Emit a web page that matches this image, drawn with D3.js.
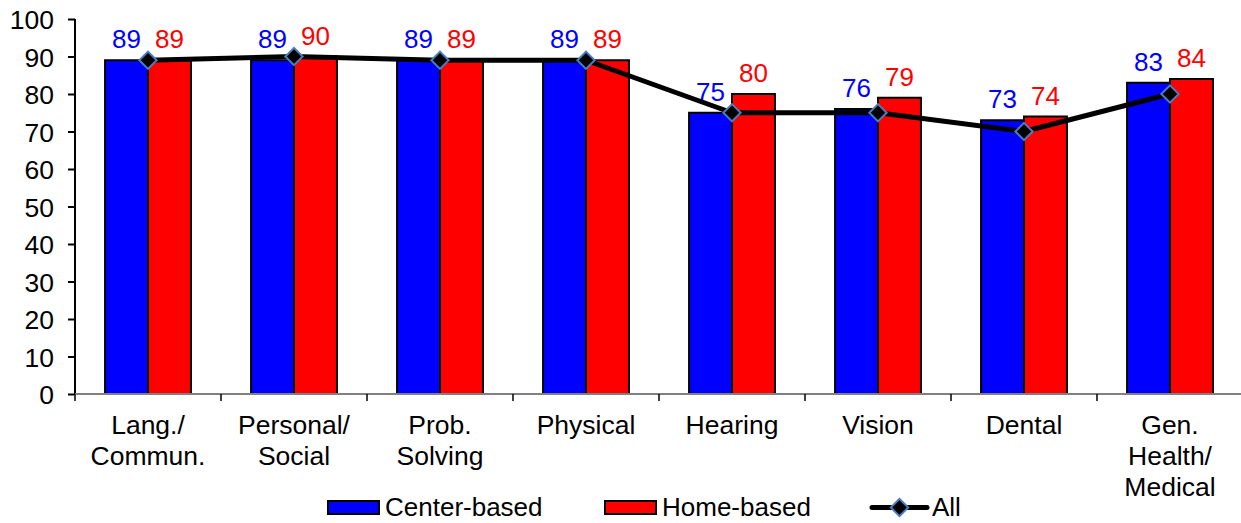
<!DOCTYPE html>
<html>
<head>
<meta charset="utf-8">
<script src="https://cdn.jsdelivr.net/npm/d3@7"></script>
<style>
  html, body { margin: 0; padding: 0; background: #fff; }
  svg { display: block; font-family: "Liberation Sans", Arial, sans-serif; }
</style>
</head>
<body>
<svg id="chart" width="1241" height="523"></svg>
<script>
const categories = ["Lang./\nCommun.", "Personal/\nSocial", "Prob.\nSolving", "Physical", "Hearing", "Vision", "Dental", "Gen.\nHealth/\nMedical"];
const seriesNames = ["Center-based", "Home-based"];
const centerBased = [89, 89, 89, 89, 75, 76, 73, 83];
const homeBased = [89, 90, 89, 89, 80, 79, 74, 84];
const allValues = [89, 90, 89, 89, 75, 75, 70, 80];
const yTicks = [0, 10, 20, 30, 40, 50, 60, 70, 80, 90, 100];

const colors = { "Center-based": "#0000FF", "Home-based": "#FF0000" };
const svg = d3.select("#chart");
const mLeft = 75, mRight = 1243, mTop = 19, mBottom = 394;
const fontSize = 26.5;

const x0 = d3.scaleBand().domain(categories).range([mLeft, mRight]).paddingInner(0).paddingOuter(0);
const x1 = d3.scaleBand().domain(seriesNames).range([0, x0.bandwidth()]).paddingInner(0).paddingOuter(0.7);
const y = d3.scaleLinear().domain([0, 100]).range([mBottom, mTop]);

// Y axis
const yAxis = svg.append("g").attr("transform", `translate(${mLeft},0)`)
  .call(d3.axisLeft(y).tickValues(yTicks).tickSize(7).tickPadding(14));
yAxis.select(".domain").attr("stroke", "#000").attr("stroke-width", 2).attr("d", `M0,${mTop}V${mBottom}`);
yAxis.selectAll(".tick line").attr("stroke", "#000").attr("stroke-width", 2);
yAxis.selectAll(".tick text").attr("font-size", fontSize).attr("fill", "#000").attr("font-family", "Liberation Sans, Arial, sans-serif").attr("dy", "0.36em");

// Bars
const data = categories.map((c, i) => ({ cat: c, vals: [
  { s: "Center-based", v: centerBased[i] },
  { s: "Home-based", v: homeBased[i] }
]}));

const groups = svg.append("g").selectAll("g").data(data).join("g")
  .attr("transform", d => `translate(${x0(d.cat)},0)`);
groups.selectAll("rect").data(d => d.vals).join("rect")
  .attr("x", d => x1(d.s))
  .attr("y", d => y(d.v))
  .attr("width", x1.bandwidth())
  .attr("height", d => y(0) - y(d.v))
  .attr("fill", d => colors[d.s])
  .attr("stroke", "#000")
  .attr("stroke-width", 2);

// X axis (gray line) with ticks at band boundaries
const xAxisG = svg.append("g");
xAxisG.append("line").attr("x1", mLeft).attr("x2", 1241).attr("y1", mBottom).attr("y2", mBottom)
  .attr("stroke", "#808080").attr("stroke-width", 2);
const boundaries = categories.map(c => x0(c));
xAxisG.selectAll("line.tk").data(boundaries).join("line").attr("class", "tk")
  .attr("x1", d => d).attr("x2", d => d).attr("y1", mBottom).attr("y2", mBottom + 7)
  .attr("stroke", "#000").attr("stroke-width", 1.5);

// Category labels
const catLabels = svg.append("g").selectAll("text").data(categories).join("text")
  .attr("x", d => x0(d) + x0.bandwidth() / 2)
  .attr("y", 434)
  .attr("text-anchor", "middle")
  .attr("font-size", fontSize)
  .attr("fill", "#000");
catLabels.each(function(d) {
  const t = d3.select(this);
  d.split("\n").forEach((line, i) => {
    t.append("tspan").attr("x", x0(d) + x0.bandwidth() / 2).attr("dy", i === 0 ? 0 : 31).text(line);
  });
});

// Line "All"
const linePts = categories.map((c, i) => [x0(c) + x0.bandwidth() / 2, y(allValues[i])]);
svg.append("path").datum(linePts)
  .attr("d", d3.line())
  .attr("fill", "none").attr("stroke", "#000").attr("stroke-width", 5).attr("stroke-linejoin", "round");

const diamond = d3.symbol().type(d3.symbolSquare).size(150);
svg.append("g").selectAll("path").data(linePts).join("path")
  .attr("d", diamond())
  .attr("transform", d => `translate(${d[0]},${d[1]}) rotate(45)`)
  .attr("fill", "#000").attr("stroke", "#4a7ebb").attr("stroke-width", 2);

// Data labels
groups.selectAll("text.lbl").data(d => d.vals).join("text").attr("class", "lbl")
  .attr("x", d => x1(d.s) + x1.bandwidth() / 2)
  .attr("y", d => y(d.v) - 12)
  .attr("text-anchor", "middle")
  .attr("font-size", 26)
  .attr("fill", d => colors[d.s])
  .text(d => d.v);

// Legend
const legend = svg.append("g");
const legY = 507.5;
const legFont = 26;
const legItems = [
  { name: "Center-based", x: 328, type: "rect" },
  { name: "Home-based", x: 605, type: "rect" },
  { name: "All", x: 872, type: "line" }
];
legItems.forEach(it => {
  if (it.type === "rect") {
    legend.append("rect").attr("x", it.x).attr("y", legY - 6.5).attr("width", 51).attr("height", 13)
      .attr("fill", colors[it.name]).attr("stroke", "#000").attr("stroke-width", 2);
    legend.append("text").attr("x", it.x + 57).attr("y", legY - 1).attr("dy", "0.36em")
      .attr("font-size", legFont).attr("fill", "#000").text(it.name);
  } else {
    legend.append("line").attr("x1", it.x).attr("x2", it.x + 55).attr("y1", legY).attr("y2", legY)
      .attr("stroke", "#000").attr("stroke-width", 5).attr("stroke-linecap", "round");
    legend.append("path").attr("d", diamond())
      .attr("transform", `translate(${it.x + 27.5},${legY}) rotate(45)`)
      .attr("fill", "#000").attr("stroke", "#4a7ebb").attr("stroke-width", 2);
    legend.append("text").attr("x", it.x + 60).attr("y", legY - 1).attr("dy", "0.36em")
      .attr("font-size", legFont).attr("fill", "#000").text(it.name);
  }
});
</script>
</body>
</html>
